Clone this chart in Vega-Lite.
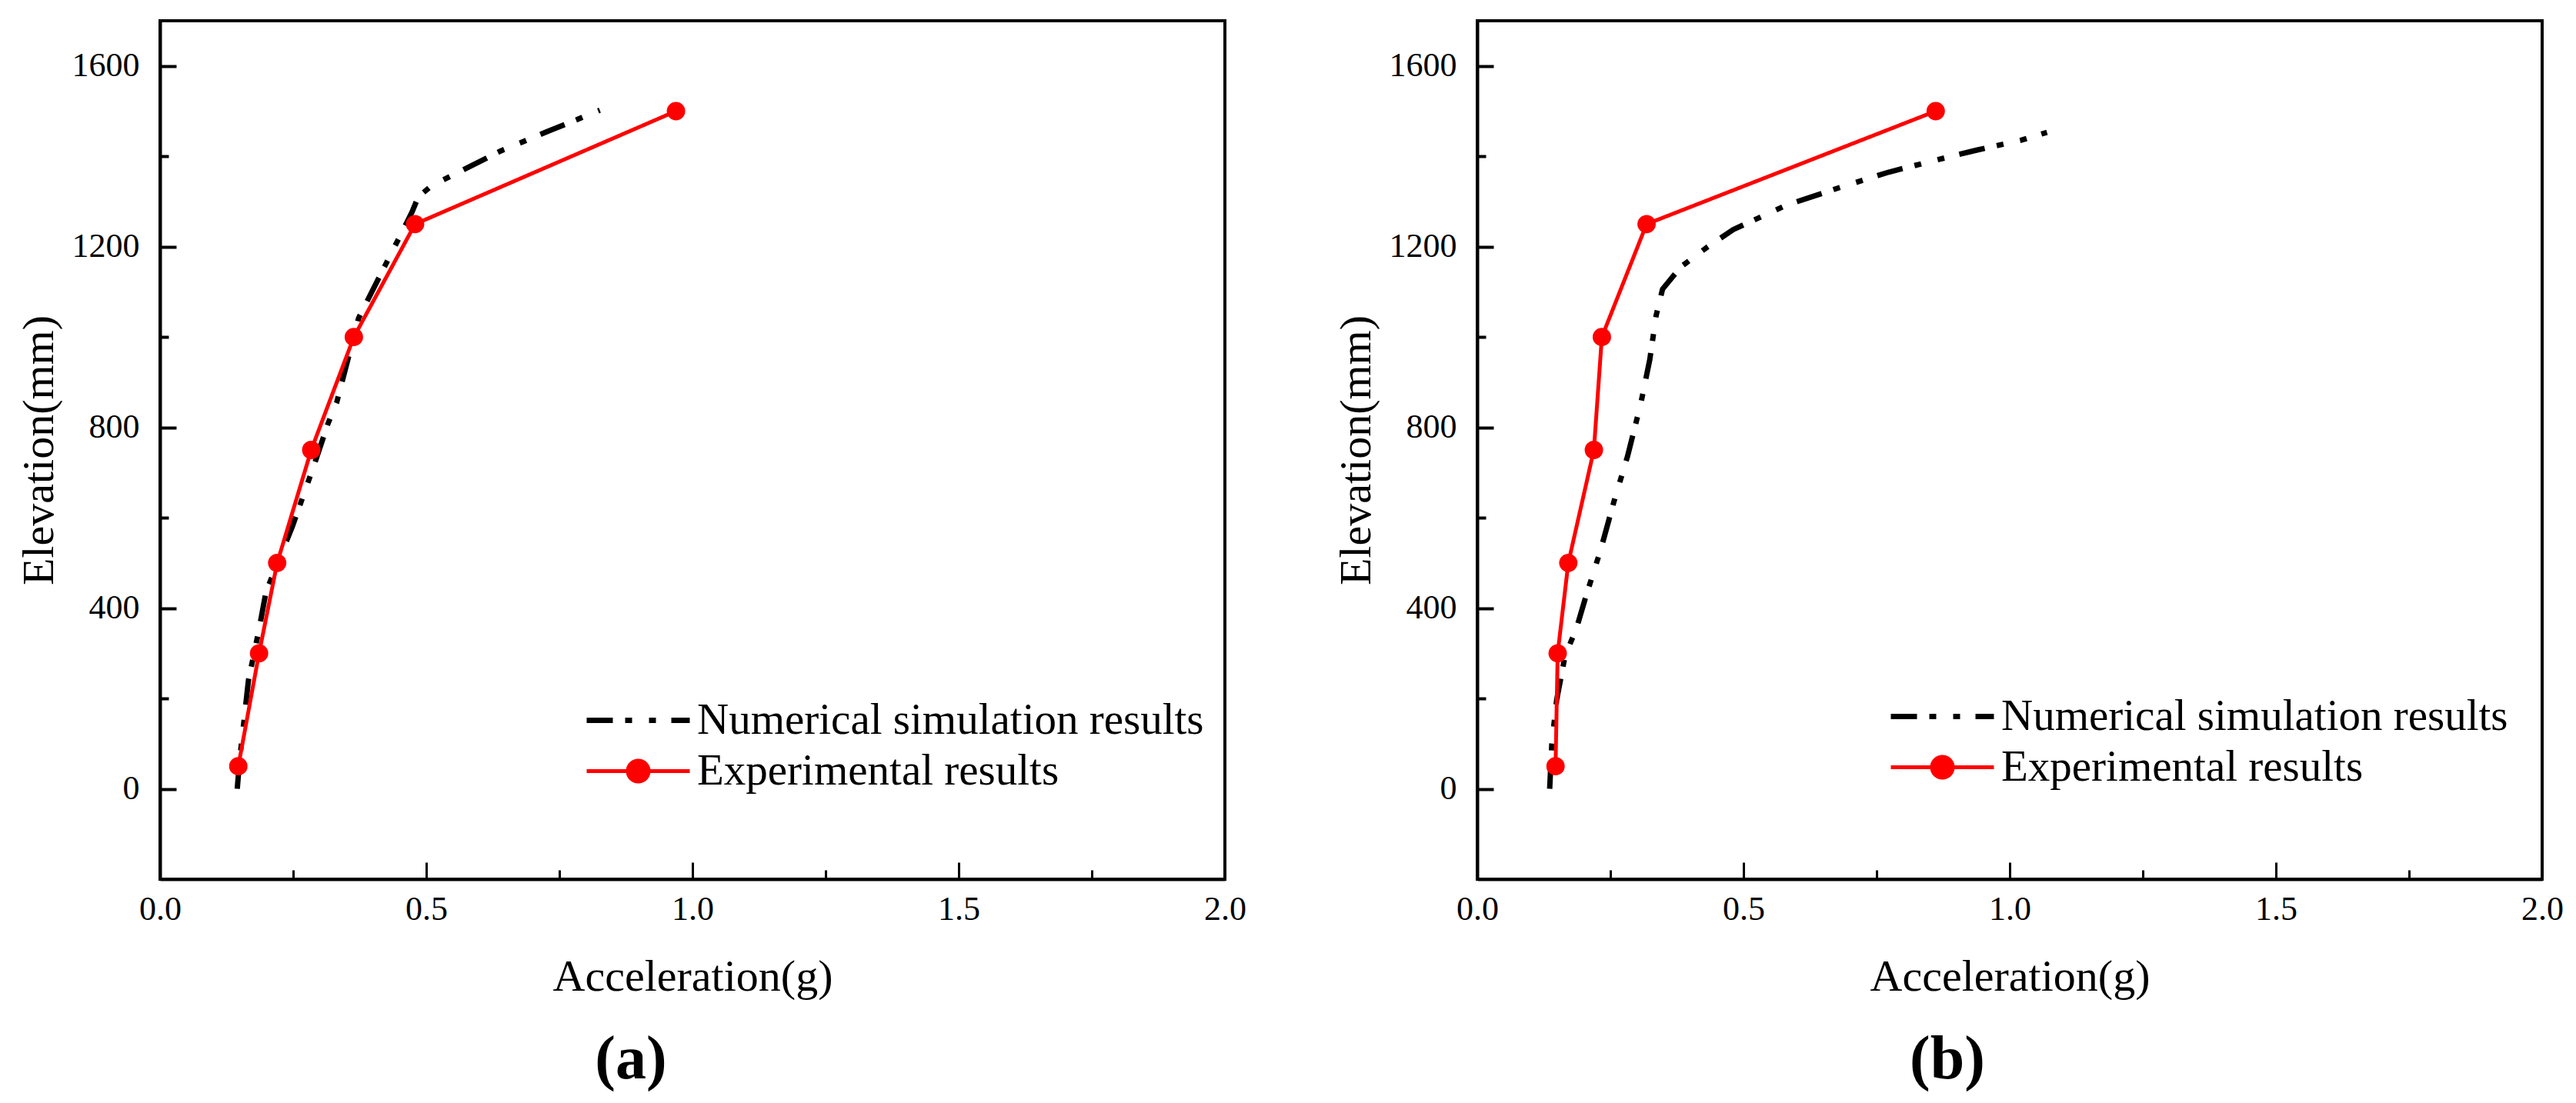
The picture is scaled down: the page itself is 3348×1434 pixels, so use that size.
{
  "$schema": "https://vega.github.io/schema/vega-lite/v6.json",
  "background": "white",
  "padding": {"left": 20, "top": 25, "right": 0, "bottom": 0},
  "datasets": {
    "a": [
      {"series": "Numerical simulation results", "acc": 0.145, "elev": 0},
      {"series": "Numerical simulation results", "acc": 0.150, "elev": 70},
      {"series": "Numerical simulation results", "acc": 0.157, "elev": 143},
      {"series": "Numerical simulation results", "acc": 0.166, "elev": 240},
      {"series": "Numerical simulation results", "acc": 0.186, "elev": 353},
      {"series": "Numerical simulation results", "acc": 0.199, "elev": 436},
      {"series": "Numerical simulation results", "acc": 0.249, "elev": 582},
      {"series": "Numerical simulation results", "acc": 0.290, "elev": 719},
      {"series": "Numerical simulation results", "acc": 0.315, "elev": 807},
      {"series": "Numerical simulation results", "acc": 0.332, "elev": 856},
      {"series": "Numerical simulation results", "acc": 0.373, "elev": 1042},
      {"series": "Numerical simulation results", "acc": 0.423, "elev": 1159},
      {"series": "Numerical simulation results", "acc": 0.448, "elev": 1217},
      {"series": "Numerical simulation results", "acc": 0.473, "elev": 1276},
      {"series": "Numerical simulation results", "acc": 0.485, "elev": 1310},
      {"series": "Numerical simulation results", "acc": 0.510, "elev": 1335},
      {"series": "Numerical simulation results", "acc": 0.640, "elev": 1412},
      {"series": "Numerical simulation results", "acc": 0.730, "elev": 1456},
      {"series": "Numerical simulation results", "acc": 0.826, "elev": 1502},
      {"series": "Experimental results", "acc": 0.147, "elev": 50},
      {"series": "Experimental results", "acc": 0.186, "elev": 300},
      {"series": "Experimental results", "acc": 0.220, "elev": 500},
      {"series": "Experimental results", "acc": 0.284, "elev": 750},
      {"series": "Experimental results", "acc": 0.364, "elev": 1000},
      {"series": "Experimental results", "acc": 0.479, "elev": 1250},
      {"series": "Experimental results", "acc": 0.969, "elev": 1500}
    ],
    "b": [
      {"series": "Numerical simulation results", "acc": 0.136, "elev": 0},
      {"series": "Numerical simulation results", "acc": 0.140, "elev": 100},
      {"series": "Numerical simulation results", "acc": 0.149, "elev": 196},
      {"series": "Numerical simulation results", "acc": 0.165, "elev": 295},
      {"series": "Numerical simulation results", "acc": 0.186, "elev": 354},
      {"series": "Numerical simulation results", "acc": 0.203, "elev": 422},
      {"series": "Numerical simulation results", "acc": 0.232, "elev": 530},
      {"series": "Numerical simulation results", "acc": 0.257, "elev": 637},
      {"series": "Numerical simulation results", "acc": 0.282, "elev": 735},
      {"series": "Numerical simulation results", "acc": 0.307, "elev": 852},
      {"series": "Numerical simulation results", "acc": 0.324, "elev": 950},
      {"series": "Numerical simulation results", "acc": 0.336, "elev": 1048},
      {"series": "Numerical simulation results", "acc": 0.348, "elev": 1106},
      {"series": "Numerical simulation results", "acc": 0.382, "elev": 1155},
      {"series": "Numerical simulation results", "acc": 0.432, "elev": 1199},
      {"series": "Numerical simulation results", "acc": 0.481, "elev": 1238},
      {"series": "Numerical simulation results", "acc": 0.581, "elev": 1292},
      {"series": "Numerical simulation results", "acc": 0.681, "elev": 1331},
      {"series": "Numerical simulation results", "acc": 0.773, "elev": 1365},
      {"series": "Numerical simulation results", "acc": 0.856, "elev": 1390},
      {"series": "Numerical simulation results", "acc": 0.939, "elev": 1414},
      {"series": "Numerical simulation results", "acc": 1.022, "elev": 1436},
      {"series": "Numerical simulation results", "acc": 1.070, "elev": 1453},
      {"series": "Experimental results", "acc": 0.147, "elev": 50},
      {"series": "Experimental results", "acc": 0.151, "elev": 300},
      {"series": "Experimental results", "acc": 0.171, "elev": 500},
      {"series": "Experimental results", "acc": 0.219, "elev": 750},
      {"series": "Experimental results", "acc": 0.234, "elev": 1000},
      {"series": "Experimental results", "acc": 0.318, "elev": 1250},
      {"series": "Experimental results", "acc": 0.861, "elev": 1500}
    ]
  },
  "config": {
    "font": "Liberation Serif",
    "view": {"stroke": "black", "strokeWidth": 4},
    "axis": {
      "grid": false,
      "labelFont": "Liberation Serif",
      "labelFontSize": 44,
      "labelColor": "black",
      "labelFlush": false,
      "labelOverlap": false,
      "titleFont": "Liberation Serif",
      "titleFontSize": 58,
      "titleFontWeight": "normal",
      "titleColor": "black",
      "tickColor": "black",
      "domainColor": "black",
      "domainWidth": 4
    },
    "title": {"font": "Liberation Serif", "fontSize": 80, "fontWeight": "bold", "color": "black", "anchor": "middle"}
  },
  "spacing": 328,
  "bounds": "flush",
  "resolve": {
    "scale": {"color": "independent", "strokeDash": "independent", "strokeWidth": "independent"},
    "legend": {"color": "independent", "strokeDash": "independent"}
  },
  "hconcat": [
    {
      "width": 1384,
      "height": 1116,
      "title": {"text": "(a)", "orient": "bottom", "dx": -80, "offset": 40},
      "data": {"name": "a"},
      "resolve": {"axis": {"x": "independent", "y": "independent"}},
      "layer": [
        {
          "mark": {"type": "line", "strokeCap": "butt", "strokeJoin": "round"},
          "encoding": {
            "x": {"field": "acc", "type": "quantitative", "scale": {"domain": [0, 2], "nice": false, "zero": false},
              "axis": {"orient": "bottom", "values": [0, 0.5, 1, 1.5, 2], "format": ".1f", "labelFont": "Liberation Serif", "labelFontSize": 44, "tickSize": -22, "tickWidth": 3, "labelPadding": 39, "title": "Acceleration(g)", "titlePadding": 37}},
            "y": {"field": "elev", "type": "quantitative", "scale": {"domain": [-200, 1700], "nice": false, "zero": false},
              "axis": {"orient": "left", "values": [0, 400, 800, 1200, 1600], "format": "d", "labelFont": "Liberation Serif", "labelFontSize": 44, "tickSize": -21, "tickWidth": 4, "labelPadding": 48, "title": "Elevation(mm)", "titlePadding": 13}},
            "order": {"field": "elev", "type": "quantitative"},
            "color": {"field": "series", "type": "nominal",
              "scale": {"domain": ["Numerical simulation results", "Experimental results"], "range": ["black", "#ff0000"]},
              "legend": {
                "orient": "none", "legendX": 551, "legendY": 871, "title": null,
                "padding": 0, "rowPadding": 0, "symbolSize": 4900, "symbolOffset": 32, "labelOffset": 38,
                "labelFont": "Liberation Serif", "labelFontSize": 57, "labelColor": "black", "labelLimit": 3000,
                "encode": {"symbols": {"update": {
                  "shape": {"signal": "datum.value === 'Experimental results' ? 'M-1.914,0H1.914M0.386,0A0.386,0.386,0,1,1,-0.386,0A0.386,0.386,0,1,1,0.386,0Z' : 'M-1.914,0H1.914'"},
                  "fill": {"signal": "datum.value === 'Experimental results' ? '#ff0000' : 'transparent'"},
                  "strokeWidth": {"signal": "datum.value === 'Experimental results' ? 5 : 7"},
                  "opacity": {"value": 1}
                }}}
              }},
            "strokeDash": {"field": "series", "type": "nominal",
              "scale": {"domain": ["Numerical simulation results", "Experimental results"], "range": [[34, 16, 9, 22, 9, 20], [1, 0]]}},
            "strokeWidth": {"field": "series", "type": "nominal",
              "scale": {"domain": ["Numerical simulation results", "Experimental results"], "range": [7, 5]}, "legend": null}
          }
        },
        {
          "transform": [{"filter": "datum.series === 'Experimental results'"}],
          "mark": {"type": "point", "filled": true, "color": "#ff0000", "size": 570, "opacity": 1},
          "encoding": {
            "x": {"field": "acc", "type": "quantitative",
              "axis": {"orient": "bottom", "values": [0.25, 0.75, 1.25, 1.75], "tickSize": -12, "tickWidth": 3, "labels": false, "domain": false, "title": null}},
            "y": {"field": "elev", "type": "quantitative",
              "axis": {"orient": "left", "values": [200, 600, 1000, 1400], "tickSize": -11, "tickWidth": 4, "labels": false, "domain": false, "title": null}}
          }
        }
      ]
    },
    {
      "width": 1384,
      "height": 1116,
      "title": {"text": "(b)", "orient": "bottom", "dx": -81, "offset": 40},
      "data": {"name": "b"},
      "resolve": {"axis": {"x": "independent", "y": "independent"}},
      "layer": [
        {
          "mark": {"type": "line", "strokeCap": "butt", "strokeJoin": "round"},
          "encoding": {
            "x": {"field": "acc", "type": "quantitative", "scale": {"domain": [0, 2], "nice": false, "zero": false},
              "axis": {"orient": "bottom", "values": [0, 0.5, 1, 1.5, 2], "format": ".1f", "labelFont": "Liberation Serif", "labelFontSize": 44, "tickSize": -22, "tickWidth": 3, "labelPadding": 39, "title": "Acceleration(g)", "titlePadding": 37}},
            "y": {"field": "elev", "type": "quantitative", "scale": {"domain": [-200, 1700], "nice": false, "zero": false},
              "axis": {"orient": "left", "values": [0, 400, 800, 1200, 1600], "format": "d", "labelFont": "Liberation Serif", "labelFontSize": 44, "tickSize": -21, "tickWidth": 4, "labelPadding": 48, "title": "Elevation(mm)", "titlePadding": 13}},
            "order": {"field": "elev", "type": "quantitative"},
            "color": {"field": "series", "type": "nominal",
              "scale": {"domain": ["Numerical simulation results", "Experimental results"], "range": ["black", "#ff0000"]},
              "legend": {
                "orient": "none", "legendX": 534, "legendY": 866, "title": null,
                "padding": 0, "rowPadding": 0, "symbolSize": 4900, "symbolOffset": 32, "labelOffset": 38,
                "labelFont": "Liberation Serif", "labelFontSize": 57, "labelColor": "black", "labelLimit": 3000,
                "encode": {"symbols": {"update": {
                  "shape": {"signal": "datum.value === 'Experimental results' ? 'M-1.914,0H1.914M0.386,0A0.386,0.386,0,1,1,-0.386,0A0.386,0.386,0,1,1,0.386,0Z' : 'M-1.914,0H1.914'"},
                  "fill": {"signal": "datum.value === 'Experimental results' ? '#ff0000' : 'transparent'"},
                  "strokeWidth": {"signal": "datum.value === 'Experimental results' ? 5 : 7"},
                  "opacity": {"value": 1}
                }}}
              }},
            "strokeDash": {"field": "series", "type": "nominal",
              "scale": {"domain": ["Numerical simulation results", "Experimental results"], "range": [[34, 16, 9, 22, 9, 20], [1, 0]]}},
            "strokeWidth": {"field": "series", "type": "nominal",
              "scale": {"domain": ["Numerical simulation results", "Experimental results"], "range": [7, 5]}, "legend": null}
          }
        },
        {
          "transform": [{"filter": "datum.series === 'Experimental results'"}],
          "mark": {"type": "point", "filled": true, "color": "#ff0000", "size": 570, "opacity": 1},
          "encoding": {
            "x": {"field": "acc", "type": "quantitative",
              "axis": {"orient": "bottom", "values": [0.25, 0.75, 1.25, 1.75], "tickSize": -12, "tickWidth": 3, "labels": false, "domain": false, "title": null}},
            "y": {"field": "elev", "type": "quantitative",
              "axis": {"orient": "left", "values": [200, 600, 1000, 1400], "tickSize": -11, "tickWidth": 4, "labels": false, "domain": false, "title": null}}
          }
        }
      ]
    }
  ]
}
